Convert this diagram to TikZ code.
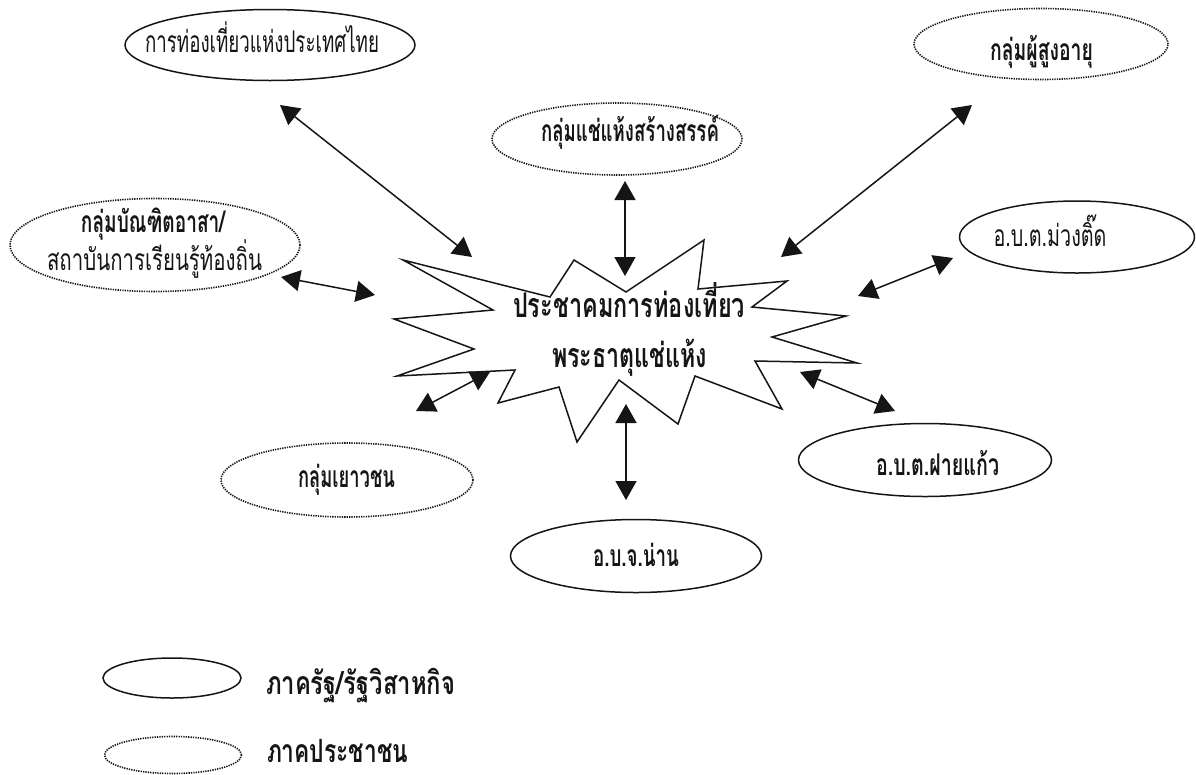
\documentclass[tikz,border=0pt]{standalone}
\usepackage{fontspec}
\usepackage{graphicx}
\usetikzlibrary{shapes.geometric,arrows.meta}
\newfontfamily\thaifont[Script=Thai]{Loma}
\newcommand{\fitthai}[3]{\resizebox{#1pt}{\height}{\fontsize{#2}{#2}\selectfont\thaifont #3}}
\definecolor{ink}{HTML}{151515}
\tikzset{
  solidell/.style={ellipse,draw=ink,line width=1.5pt,inner sep=0pt},
  dotell/.style={ellipse,draw=ink,line width=1.6pt,dash pattern=on 1.3pt off 1.1pt,inner sep=0pt},
  biarrow/.style={draw=ink,line width=1.5pt,{Triangle[length=19pt,width=21pt]}-{Triangle[length=19pt,width=21pt]},shorten <=0pt,shorten >=0pt},
  txt/.style={inner sep=0pt,text=ink,anchor=base},
  bd/.style={txt,font=\bfseries}
}
\begin{document}
\begin{tikzpicture}[x=1pt,y=-1pt]
\useasboundingbox (0,0) rectangle (1196,774);
\fill[white] (0,0) rectangle (1196,774);
% ellipses
\node[solidell,minimum width=290pt,minimum height=71pt] (tat) at (270,45) {};
\node[dotell,minimum width=290pt,minimum height=93pt] (grad) at (155,245) {};
\node[dotell,minimum width=254pt,minimum height=71pt] (elder) at (1041,44) {};
\node[dotell,minimum width=250pt,minimum height=72pt] (creative) at (617,139) {};
\node[solidell,minimum width=235pt,minimum height=72pt] (muang) at (1077,237) {};
\node[solidell,minimum width=253pt,minimum height=73pt] (fai) at (925,460) {};
\node[solidell,minimum width=251pt,minimum height=73pt] (nan) at (636,556) {};
\node[dotell,minimum width=252pt,minimum height=74pt] (youth) at (347,480) {};
\node[solidell,minimum width=138pt,minimum height=40pt] (legA) at (172,678) {};
\node[dotell,minimum width=137pt,minimum height=37pt] (legB) at (173,755) {};
% star
\draw[ink,line width=1.5pt,line join=miter,miter limit=20]
 (403,260)--(550,297)--(574,260)--(626,292)--(704,240)--(698,289)--(787,281)--(752,307)--(846,316)--(772,337)--(857,363)--(755,361)--(782,409)--(695,376)--(678,424)--(619,380)--(577,442)--(559,387)--(498,403)--(515,370)--(397,376)--(474,349)--(394,319)--(493,310)--cycle;
% labels
\node[txt] (tTat) at (262,52) {\fitthai{234}{30}{การท่องเที่ยวแห่งประเทศไทย}};
\node[bd] (tGradA) at (153,232) {\fitthai{144}{30}{\bfseries กลุ่มบัณฑิตอาสา/}};
\node[txt] (tGradB) at (154.5,270) {\fitthai{215}{30}{สถาบันการเรียนรู้ท้องถิ่น}};
\node[bd] (tElder) at (1041.5,60) {\fitthai{103}{30}{\bfseries กลุ่มผู้สูงอายุ}};
\node[bd] (tCreative) at (630,141) {\fitthai{178}{30}{\bfseries กลุ่มแช่แห้งสร้างสรรค์}};
\node[txt] (tMuang) at (1050,246) {\fitthai{113}{30}{อ.บ.ต.ม่วงติ๊ด}};
\node[bd] (tFai) at (937.5,475) {\fitthai{123}{30}{\bfseries อ.บ.ต.ฝายแก้ว}};
\node[bd] (tNan) at (636,566) {\fitthai{86}{30}{\bfseries อ.บ.จ.น่าน}};
\node[bd] (tYouth) at (346.5,487) {\fitthai{97}{30}{\bfseries กลุ่มเยาวชน}};
\node[bd] (tHubA) at (629,317) {\fitthai{232}{34}{\bfseries ประชาคมการท่องเที่ยว}};
\node[bd] (tHubB) at (629.5,367) {\fitthai{155}{34}{\bfseries พระธาตุแช่แห้ง}};
\node[bd] (tLegA) at (360.5,694) {\fitthai{189}{32}{\bfseries ภาครัฐ/รัฐวิสาหกิจ}};
\node[bd] (tLegB) at (337.5,762) {\fitthai{141}{32}{\bfseries ภาคประชาชน}};
% connector ends
\coordinate (a1) at (280,105); \coordinate (b1) at (472,257);
\coordinate (a2) at (281,277); \coordinate (b2) at (375,295);
\coordinate (a3) at (416,411); \coordinate (b3) at (490,372);
\coordinate (a4) at (625,181); \coordinate (b4) at (625,276);
\coordinate (a5) at (972,105); \coordinate (b5) at (781,257);
\coordinate (a6) at (953,258); \coordinate (b6) at (858,296);
\coordinate (a7) at (800,372); \coordinate (b7) at (895,411);
\coordinate (a8) at (626,404); \coordinate (b8) at (626,500);
\foreach \i in {1,...,8} {\draw[biarrow] (a\i) -- (b\i);}
\end{tikzpicture}
\end{document}
